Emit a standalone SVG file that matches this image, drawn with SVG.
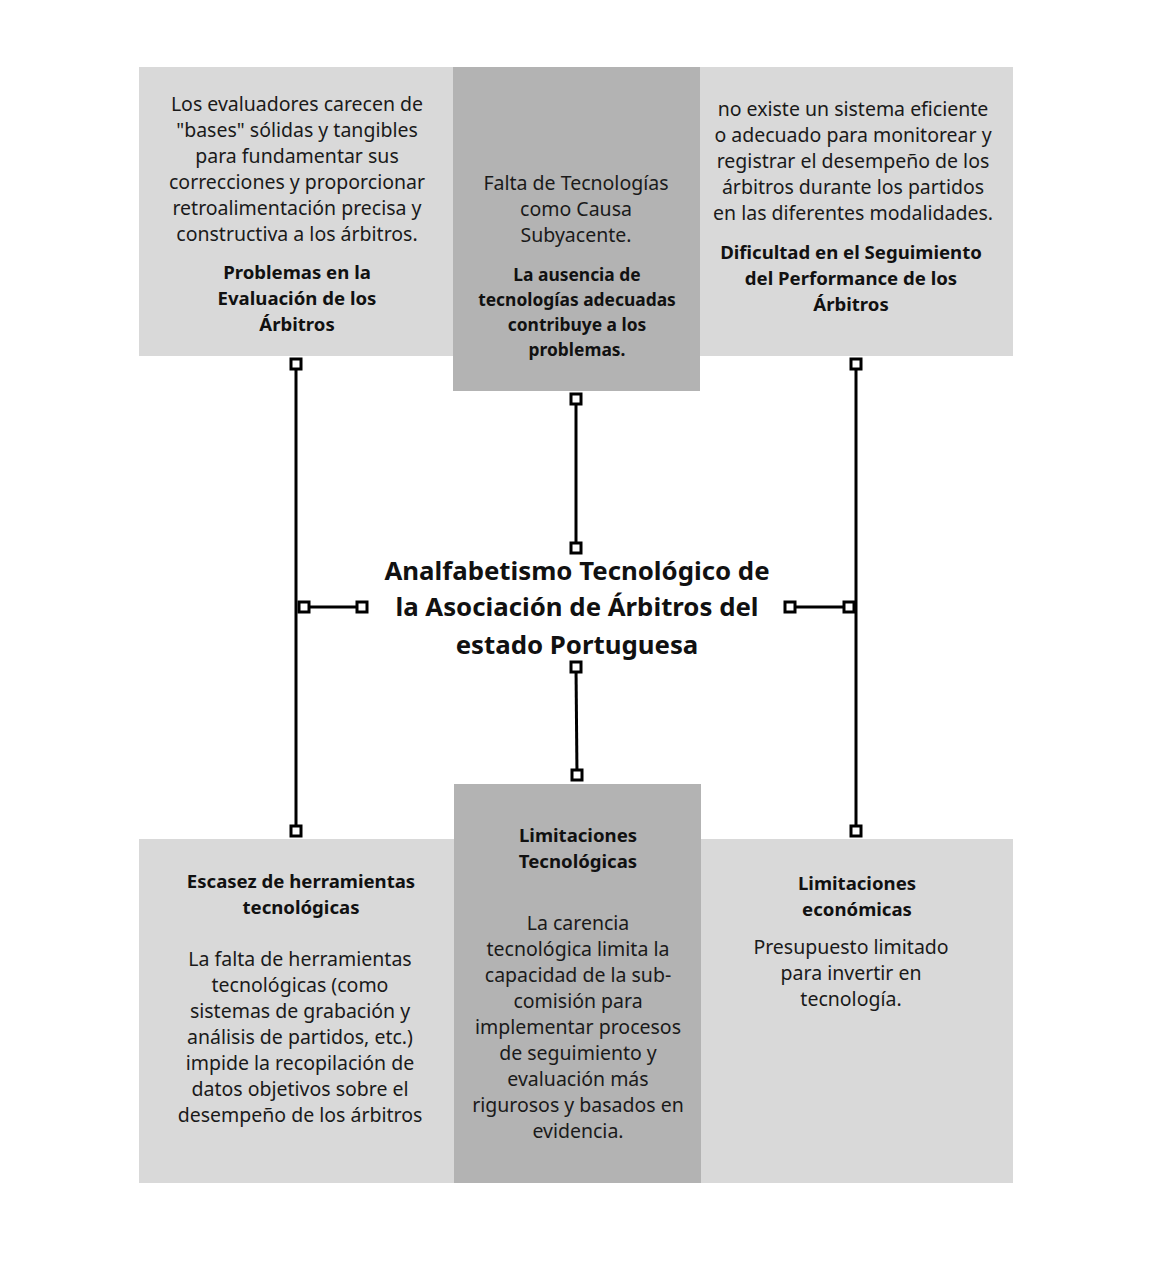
<svg xmlns="http://www.w3.org/2000/svg" width="1155" height="1270" viewBox="0 0 1155 1270">
<style>
.light{fill:#d9d9d9}
.dark{fill:#b3b3b3}
.body{font-family:"Noto Sans","Open Sans",sans-serif;font-size:19.5px;fill:#1a1a1a;text-anchor:middle}
.title{font-family:"Noto Sans","Open Sans",sans-serif;font-size:18.6px;font-weight:bold;fill:#111;text-anchor:middle}
.btitle{font-family:"Noto Sans","Open Sans",sans-serif;font-size:17.4px;font-weight:bold;fill:#111;text-anchor:middle}
.center{font-family:"Noto Sans","Open Sans",sans-serif;font-size:25.8px;font-weight:bold;fill:#111;text-anchor:middle}
.ln{stroke:#000;stroke-width:3;fill:none}
.sq{fill:#fff;stroke:#000;stroke-width:3}
</style>
<rect width="1155" height="1270" fill="#fff"/>

<g id="node-problemas">
<rect class="light" x="139" y="67" width="315" height="289"/>
<text class="body"><tspan x="297" y="111">Los evaluadores carecen de</tspan><tspan x="297" y="137">"bases" sólidas y tangibles</tspan><tspan x="297" y="163">para fundamentar sus</tspan><tspan x="297" y="189">correcciones y proporcionar</tspan><tspan x="297" y="215">retroalimentación precisa y</tspan><tspan x="297" y="241">constructiva a los árbitros.</tspan></text>
<text class="title"><tspan x="297" y="279">Problemas en la</tspan><tspan x="297" y="305">Evaluación de los</tspan><tspan x="297" y="331">Árbitros</tspan></text>
</g>

<g id="node-falta">
<rect class="dark" x="453" y="67" width="247" height="324"/>
<text class="body"><tspan x="576" y="190">Falta de Tecnologías</tspan><tspan x="576" y="216">como Causa</tspan><tspan x="576" y="242">Subyacente.</tspan></text>
<text class="btitle"><tspan x="577" y="281">La ausencia de</tspan><tspan x="577" y="306">tecnologías adecuadas</tspan><tspan x="577" y="331">contribuye a los</tspan><tspan x="577" y="356">problemas.</tspan></text>
</g>

<g id="node-dificultad">
<rect class="light" x="700" y="67" width="313" height="289"/>
<text class="body"><tspan x="853" y="116">no existe un sistema eficiente</tspan><tspan x="853" y="142">o adecuado para monitorear y</tspan><tspan x="853" y="168">registrar el desempeño de los</tspan><tspan x="853" y="194">árbitros durante los partidos</tspan><tspan x="853" y="220">en las diferentes modalidades.</tspan></text>
<text class="title"><tspan x="851" y="259">Dificultad en el Seguimiento</tspan><tspan x="851" y="285">del Performance de los</tspan><tspan x="851" y="311">Árbitros</tspan></text>
</g>

<g id="node-central">
<text class="center"><tspan x="577" y="580">Analfabetismo Tecnológico de</tspan><tspan x="577" y="616">la Asociación de Árbitros del</tspan><tspan x="577" y="654">estado Portuguesa</tspan></text>
</g>

<g id="node-escasez">
<rect class="light" x="139" y="839" width="315" height="344"/>
<text class="title"><tspan x="301" y="888">Escasez de herramientas</tspan><tspan x="301" y="914">tecnológicas</tspan></text>
<text class="body"><tspan x="300" y="966">La falta de herramientas</tspan><tspan x="300" y="992">tecnológicas (como</tspan><tspan x="300" y="1018">sistemas de grabación y</tspan><tspan x="300" y="1044">análisis de partidos, etc.)</tspan><tspan x="300" y="1070">impide la recopilación de</tspan><tspan x="300" y="1096">datos objetivos sobre el</tspan><tspan x="300" y="1122">desempeño de los árbitros</tspan></text>
</g>

<g id="node-limtec">
<rect class="dark" x="454" y="784" width="247" height="399"/>
<text class="title"><tspan x="578" y="842">Limitaciones</tspan><tspan x="578" y="868">Tecnológicas</tspan></text>
<text class="body"><tspan x="578" y="930">La carencia</tspan><tspan x="578" y="956">tecnológica limita la</tspan><tspan x="578" y="982">capacidad de la sub-</tspan><tspan x="578" y="1008">comisión para</tspan><tspan x="578" y="1034">implementar procesos</tspan><tspan x="578" y="1060">de seguimiento y</tspan><tspan x="578" y="1086">evaluación más</tspan><tspan x="578" y="1112">rigurosos y basados en</tspan><tspan x="578" y="1138">evidencia.</tspan></text>
</g>

<g id="node-limeco">
<rect class="light" x="701" y="839" width="312" height="344"/>
<text class="title"><tspan x="857" y="890">Limitaciones</tspan><tspan x="857" y="916">económicas</tspan></text>
<text class="body"><tspan x="851" y="954">Presupuesto limitado</tspan><tspan x="851" y="980">para invertir en</tspan><tspan x="851" y="1006">tecnología.</tspan></text>
</g>

<g id="connectors">
<line class="ln" x1="296" y1="364" x2="296" y2="831"/>
<line class="ln" x1="304" y1="607" x2="362" y2="607"/>
<line class="ln" x1="576" y1="399" x2="576" y2="548"/>
<line class="ln" x1="576" y1="667" x2="577" y2="775"/>
<line class="ln" x1="856" y1="364" x2="856" y2="831"/>
<line class="ln" x1="790" y1="607" x2="849" y2="607"/>
<rect class="sq" x="291" y="359" width="10" height="10"/>
<rect class="sq" x="291" y="826" width="10" height="10"/>
<rect class="sq" x="299" y="602" width="10" height="10"/>
<rect class="sq" x="357" y="602" width="10" height="10"/>
<rect class="sq" x="571" y="394" width="10" height="10"/>
<rect class="sq" x="571" y="543" width="10" height="10"/>
<rect class="sq" x="571" y="662" width="10" height="10"/>
<rect class="sq" x="572" y="770" width="10" height="10"/>
<rect class="sq" x="851" y="359" width="10" height="10"/>
<rect class="sq" x="851" y="826" width="10" height="10"/>
<rect class="sq" x="785" y="602" width="10" height="10"/>
<rect class="sq" x="844" y="602" width="10" height="10"/>
</g>
</svg>
